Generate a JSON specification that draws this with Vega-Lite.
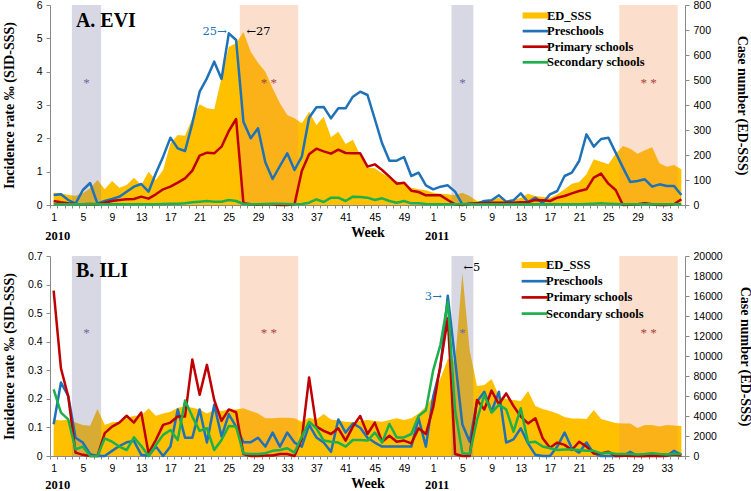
{
  "$schema": "https://vega.github.io/schema/vega-lite/v6.json",
  "background": "white",
  "padding": {"left": 2, "top": 0, "right": 0, "bottom": 0},
  "datasets": {
    "evi": [
      {"i": 1, "ED_SSS": 49, "Preschools": 0.30, "Primary schools": 0.12, "Secondary schools": 0.02},
      {"i": 2, "ED_SSS": 47, "Preschools": 0.32, "Primary schools": 0.08, "Secondary schools": 0.02},
      {"i": 3, "ED_SSS": 40, "Preschools": 0.15, "Primary schools": 0.05, "Secondary schools": 0.02},
      {"i": 4, "ED_SSS": 37, "Preschools": 0.04, "Primary schools": 0.03, "Secondary schools": 0.02},
      {"i": 5, "ED_SSS": 47, "Preschools": 0.45, "Primary schools": 0.02, "Secondary schools": 0.02},
      {"i": 6, "ED_SSS": 67, "Preschools": 0.66, "Primary schools": 0.03, "Secondary schools": 0.02},
      {"i": 7, "ED_SSS": 100, "Preschools": 0.04, "Primary schools": 0.02, "Secondary schools": 0.02},
      {"i": 8, "ED_SSS": 63, "Preschools": 0.12, "Primary schools": 0.07, "Secondary schools": 0.02},
      {"i": 9, "ED_SSS": 96, "Preschools": 0.18, "Primary schools": 0.12, "Secondary schools": 0.02},
      {"i": 10, "ED_SSS": 69, "Preschools": 0.25, "Primary schools": 0.15, "Secondary schools": 0.02},
      {"i": 11, "ED_SSS": 80, "Preschools": 0.40, "Primary schools": 0.17, "Secondary schools": 0.02},
      {"i": 12, "ED_SSS": 109, "Preschools": 0.55, "Primary schools": 0.18, "Secondary schools": 0.02},
      {"i": 13, "ED_SSS": 80, "Preschools": 0.63, "Primary schools": 0.25, "Secondary schools": 0.02},
      {"i": 14, "ED_SSS": 133, "Preschools": 0.40, "Primary schools": 0.19, "Secondary schools": 0.02},
      {"i": 15, "ED_SSS": 100, "Preschools": 0.95, "Primary schools": 0.32, "Secondary schools": 0.02},
      {"i": 16, "ED_SSS": 140, "Preschools": 1.45, "Primary schools": 0.47, "Secondary schools": 0.03},
      {"i": 17, "ED_SSS": 247, "Preschools": 2.02, "Primary schools": 0.55, "Secondary schools": 0.04},
      {"i": 18, "ED_SSS": 280, "Preschools": 1.70, "Primary schools": 0.67, "Secondary schools": 0.04},
      {"i": 19, "ED_SSS": 277, "Preschools": 1.62, "Primary schools": 0.80, "Secondary schools": 0.05},
      {"i": 20, "ED_SSS": 347, "Preschools": 2.45, "Primary schools": 1.03, "Secondary schools": 0.08},
      {"i": 21, "ED_SSS": 403, "Preschools": 3.40, "Primary schools": 1.48, "Secondary schools": 0.10},
      {"i": 22, "ED_SSS": 387, "Preschools": 3.80, "Primary schools": 1.57, "Secondary schools": 0.12},
      {"i": 23, "ED_SSS": 383, "Preschools": 4.30, "Primary schools": 1.55, "Secondary schools": 0.10},
      {"i": 24, "ED_SSS": 509, "Preschools": 3.78, "Primary schools": 1.75, "Secondary schools": 0.10},
      {"i": 25, "ED_SSS": 633, "Preschools": 5.15, "Primary schools": 2.22, "Secondary schools": 0.15},
      {"i": 26, "ED_SSS": 647, "Preschools": 4.95, "Primary schools": 2.58, "Secondary schools": 0.12},
      {"i": 27, "ED_SSS": 692, "Preschools": 2.50, "Primary schools": 0.05, "Secondary schools": 0.03},
      {"i": 28, "ED_SSS": 613, "Preschools": 2.00, "Primary schools": 0.02, "Secondary schools": 0.02},
      {"i": 29, "ED_SSS": 569, "Preschools": 2.30, "Primary schools": 0.01, "Secondary schools": 0.02},
      {"i": 30, "ED_SSS": 533, "Preschools": 1.28, "Primary schools": 0.02, "Secondary schools": 0.03},
      {"i": 31, "ED_SSS": 467, "Preschools": 0.78, "Primary schools": 0.02, "Secondary schools": 0.04},
      {"i": 32, "ED_SSS": 407, "Preschools": 1.17, "Primary schools": 0.00, "Secondary schools": 0.04},
      {"i": 33, "ED_SSS": 360, "Preschools": 1.55, "Primary schools": 0.00, "Secondary schools": 0.03},
      {"i": 34, "ED_SSS": 347, "Preschools": 1.05, "Primary schools": 0.02, "Secondary schools": 0.02},
      {"i": 35, "ED_SSS": 327, "Preschools": 1.45, "Primary schools": 1.02, "Secondary schools": 0.03},
      {"i": 36, "ED_SSS": 373, "Preschools": 2.62, "Primary schools": 1.52, "Secondary schools": 0.07},
      {"i": 37, "ED_SSS": 320, "Preschools": 2.93, "Primary schools": 1.69, "Secondary schools": 0.17},
      {"i": 38, "ED_SSS": 353, "Preschools": 2.94, "Primary schools": 1.61, "Secondary schools": 0.09},
      {"i": 39, "ED_SSS": 271, "Preschools": 2.60, "Primary schools": 1.54, "Secondary schools": 0.22},
      {"i": 40, "ED_SSS": 293, "Preschools": 2.90, "Primary schools": 1.66, "Secondary schools": 0.22},
      {"i": 41, "ED_SSS": 244, "Preschools": 2.90, "Primary schools": 1.56, "Secondary schools": 0.12},
      {"i": 42, "ED_SSS": 261, "Preschools": 3.25, "Primary schools": 1.55, "Secondary schools": 0.25},
      {"i": 43, "ED_SSS": 200, "Preschools": 3.40, "Primary schools": 1.55, "Secondary schools": 0.24},
      {"i": 44, "ED_SSS": 149, "Preschools": 3.30, "Primary schools": 1.15, "Secondary schools": 0.22},
      {"i": 45, "ED_SSS": 147, "Preschools": 2.58, "Primary schools": 1.22, "Secondary schools": 0.15},
      {"i": 46, "ED_SSS": 127, "Preschools": 1.85, "Primary schools": 1.05, "Secondary schools": 0.20},
      {"i": 47, "ED_SSS": 109, "Preschools": 1.33, "Primary schools": 0.85, "Secondary schools": 0.12},
      {"i": 48, "ED_SSS": 96, "Preschools": 1.33, "Primary schools": 0.64, "Secondary schools": 0.07},
      {"i": 49, "ED_SSS": 83, "Preschools": 1.44, "Primary schools": 0.67, "Secondary schools": 0.12},
      {"i": 50, "ED_SSS": 69, "Preschools": 0.87, "Primary schools": 0.43, "Secondary schools": 0.05},
      {"i": 51, "ED_SSS": 63, "Preschools": 0.97, "Primary schools": 0.39, "Secondary schools": 0.05},
      {"i": 52, "ED_SSS": 59, "Preschools": 0.59, "Primary schools": 0.29, "Secondary schools": 0.03},
      {"i": 53, "ED_SSS": 49, "Preschools": 0.47, "Primary schools": 0.29, "Secondary schools": 0.02},
      {"i": 54, "ED_SSS": 45, "Preschools": 0.55, "Primary schools": 0.29, "Secondary schools": 0.02},
      {"i": 55, "ED_SSS": 43, "Preschools": 0.59, "Primary schools": 0.15, "Secondary schools": 0.02},
      {"i": 56, "ED_SSS": 39, "Preschools": 0.40, "Primary schools": 0.02, "Secondary schools": 0.02},
      {"i": 57, "ED_SSS": 49, "Preschools": 0.02, "Primary schools": 0.00, "Secondary schools": 0.02},
      {"i": 58, "ED_SSS": 36, "Preschools": 0.04, "Primary schools": 0.04, "Secondary schools": 0.02},
      {"i": 59, "ED_SSS": 16, "Preschools": 0.04, "Primary schools": 0.05, "Secondary schools": 0.02},
      {"i": 60, "ED_SSS": 16, "Preschools": 0.12, "Primary schools": 0.06, "Secondary schools": 0.02},
      {"i": 61, "ED_SSS": 19, "Preschools": 0.14, "Primary schools": 0.07, "Secondary schools": 0.02},
      {"i": 62, "ED_SSS": 29, "Preschools": 0.29, "Primary schools": 0.07, "Secondary schools": 0.02},
      {"i": 63, "ED_SSS": 16, "Preschools": 0.10, "Primary schools": 0.07, "Secondary schools": 0.02},
      {"i": 64, "ED_SSS": 19, "Preschools": 0.14, "Primary schools": 0.07, "Secondary schools": 0.02},
      {"i": 65, "ED_SSS": 29, "Preschools": 0.35, "Primary schools": 0.08, "Secondary schools": 0.02},
      {"i": 66, "ED_SSS": 45, "Preschools": 0.09, "Primary schools": 0.09, "Secondary schools": 0.02},
      {"i": 67, "ED_SSS": 36, "Preschools": 0.22, "Primary schools": 0.15, "Secondary schools": 0.02},
      {"i": 68, "ED_SSS": 32, "Preschools": 0.06, "Primary schools": 0.14, "Secondary schools": 0.02},
      {"i": 69, "ED_SSS": 29, "Preschools": 0.32, "Primary schools": 0.12, "Secondary schools": 0.02},
      {"i": 70, "ED_SSS": 43, "Preschools": 0.42, "Primary schools": 0.22, "Secondary schools": 0.02},
      {"i": 71, "ED_SSS": 63, "Preschools": 0.87, "Primary schools": 0.27, "Secondary schools": 0.02},
      {"i": 72, "ED_SSS": 85, "Preschools": 0.97, "Primary schools": 0.35, "Secondary schools": 0.02},
      {"i": 73, "ED_SSS": 92, "Preschools": 1.32, "Primary schools": 0.42, "Secondary schools": 0.02},
      {"i": 74, "ED_SSS": 123, "Preschools": 2.12, "Primary schools": 0.47, "Secondary schools": 0.03},
      {"i": 75, "ED_SSS": 183, "Preschools": 1.75, "Primary schools": 0.82, "Secondary schools": 0.04},
      {"i": 76, "ED_SSS": 173, "Preschools": 1.98, "Primary schools": 0.94, "Secondary schools": 0.05},
      {"i": 77, "ED_SSS": 163, "Preschools": 2.02, "Primary schools": 0.64, "Secondary schools": 0.04},
      {"i": 78, "ED_SSS": 205, "Preschools": 1.57, "Primary schools": 0.45, "Secondary schools": 0.03},
      {"i": 79, "ED_SSS": 236, "Preschools": 1.12, "Primary schools": 0.00, "Secondary schools": 0.02},
      {"i": 80, "ED_SSS": 225, "Preschools": 0.69, "Primary schools": 0.01, "Secondary schools": 0.02},
      {"i": 81, "ED_SSS": 205, "Preschools": 0.72, "Primary schools": 0.02, "Secondary schools": 0.02},
      {"i": 82, "ED_SSS": 219, "Preschools": 0.77, "Primary schools": 0.05, "Secondary schools": 0.02},
      {"i": 83, "ED_SSS": 231, "Preschools": 0.55, "Primary schools": 0.02, "Secondary schools": 0.02},
      {"i": 84, "ED_SSS": 167, "Preschools": 0.62, "Primary schools": 0.00, "Secondary schools": 0.02},
      {"i": 85, "ED_SSS": 153, "Preschools": 0.57, "Primary schools": 0.00, "Secondary schools": 0.02},
      {"i": 86, "ED_SSS": 160, "Preschools": 0.57, "Primary schools": 0.02, "Secondary schools": 0.02},
      {"i": 87, "ED_SSS": 143, "Preschools": 0.30, "Primary schools": 0.17, "Secondary schools": 0.02}
    ],
    "ili": [
      {"i": 1, "ED_SSS": 3660, "Preschools": 0.111, "Primary schools": 0.579, "Secondary schools": 0.233},
      {"i": 2, "ED_SSS": 3540, "Preschools": 0.257, "Primary schools": 0.307, "Secondary schools": 0.152},
      {"i": 3, "ED_SSS": 3660, "Preschools": 0.210, "Primary schools": 0.208, "Secondary schools": 0.128},
      {"i": 4, "ED_SSS": 3340, "Preschools": 0.064, "Primary schools": 0.012, "Secondary schools": 0.023},
      {"i": 5, "ED_SSS": 3110, "Preschools": 0.047, "Primary schools": 0.004, "Secondary schools": 0.033},
      {"i": 6, "ED_SSS": 3030, "Preschools": 0.006, "Primary schools": 0.000, "Secondary schools": 0.000},
      {"i": 7, "ED_SSS": 4710, "Preschools": 0.000, "Primary schools": 0.000, "Secondary schools": 0.000},
      {"i": 8, "ED_SSS": 3110, "Preschools": 0.000, "Primary schools": 0.080, "Secondary schools": 0.062},
      {"i": 9, "ED_SSS": 3370, "Preschools": 0.018, "Primary schools": 0.103, "Secondary schools": 0.050},
      {"i": 10, "ED_SSS": 3430, "Preschools": 0.035, "Primary schools": 0.117, "Secondary schools": 0.033},
      {"i": 11, "ED_SSS": 3770, "Preschools": 0.048, "Primary schools": 0.141, "Secondary schools": 0.021},
      {"i": 12, "ED_SSS": 4030, "Preschools": 0.053, "Primary schools": 0.117, "Secondary schools": 0.065},
      {"i": 13, "ED_SSS": 4030, "Preschools": 0.004, "Primary schools": 0.152, "Secondary schools": 0.035},
      {"i": 14, "ED_SSS": 4770, "Preschools": 0.000, "Primary schools": 0.010, "Secondary schools": 0.000},
      {"i": 15, "ED_SSS": 4030, "Preschools": 0.033, "Primary schools": 0.056, "Secondary schools": 0.038},
      {"i": 16, "ED_SSS": 4260, "Preschools": 0.000, "Primary schools": 0.109, "Secondary schools": 0.074},
      {"i": 17, "ED_SSS": 4430, "Preschools": 0.033, "Primary schools": 0.117, "Secondary schools": 0.091},
      {"i": 18, "ED_SSS": 4830, "Preschools": 0.163, "Primary schools": 0.138, "Secondary schools": 0.056},
      {"i": 19, "ED_SSS": 4940, "Preschools": 0.064, "Primary schools": 0.138, "Secondary schools": 0.194},
      {"i": 20, "ED_SSS": 4830, "Preschools": 0.064, "Primary schools": 0.338, "Secondary schools": 0.138},
      {"i": 21, "ED_SSS": 4660, "Preschools": 0.163, "Primary schools": 0.214, "Secondary schools": 0.088},
      {"i": 22, "ED_SSS": 4260, "Preschools": 0.047, "Primary schools": 0.319, "Secondary schools": 0.097},
      {"i": 23, "ED_SSS": 4600, "Preschools": 0.179, "Primary schools": 0.196, "Secondary schools": 0.021},
      {"i": 24, "ED_SSS": 4510, "Preschools": 0.068, "Primary schools": 0.123, "Secondary schools": 0.056},
      {"i": 25, "ED_SSS": 4660, "Preschools": 0.146, "Primary schools": 0.163, "Secondary schools": 0.105},
      {"i": 26, "ED_SSS": 4660, "Preschools": 0.103, "Primary schools": 0.153, "Secondary schools": 0.103},
      {"i": 27, "ED_SSS": 4770, "Preschools": 0.048, "Primary schools": 0.007, "Secondary schools": 0.009},
      {"i": 28, "ED_SSS": 4510, "Preschools": 0.048, "Primary schools": 0.000, "Secondary schools": 0.007},
      {"i": 29, "ED_SSS": 4260, "Preschools": 0.064, "Primary schools": 0.000, "Secondary schools": 0.007},
      {"i": 30, "ED_SSS": 3770, "Preschools": 0.033, "Primary schools": 0.002, "Secondary schools": 0.010},
      {"i": 31, "ED_SSS": 3770, "Preschools": 0.082, "Primary schools": 0.002, "Secondary schools": 0.018},
      {"i": 32, "ED_SSS": 3830, "Preschools": 0.033, "Primary schools": 0.007, "Secondary schools": 0.021},
      {"i": 33, "ED_SSS": 3830, "Preschools": 0.082, "Primary schools": 0.007, "Secondary schools": 0.027},
      {"i": 34, "ED_SSS": 3770, "Preschools": 0.047, "Primary schools": 0.000, "Secondary schools": 0.012},
      {"i": 35, "ED_SSS": 3430, "Preschools": 0.033, "Primary schools": 0.060, "Secondary schools": 0.068},
      {"i": 36, "ED_SSS": 3830, "Preschools": 0.109, "Primary schools": 0.275, "Secondary schools": 0.120},
      {"i": 37, "ED_SSS": 3660, "Preschools": 0.065, "Primary schools": 0.103, "Secondary schools": 0.097},
      {"i": 38, "ED_SSS": 4200, "Preschools": 0.047, "Primary schools": 0.088, "Secondary schools": 0.054},
      {"i": 39, "ED_SSS": 3660, "Preschools": 0.015, "Primary schools": 0.077, "Secondary schools": 0.050},
      {"i": 40, "ED_SSS": 3540, "Preschools": 0.128, "Primary schools": 0.097, "Secondary schools": 0.047},
      {"i": 41, "ED_SSS": 3430, "Preschools": 0.082, "Primary schools": 0.054, "Secondary schools": 0.033},
      {"i": 42, "ED_SSS": 3370, "Preschools": 0.114, "Primary schools": 0.103, "Secondary schools": 0.056},
      {"i": 43, "ED_SSS": 3510, "Preschools": 0.099, "Primary schools": 0.140, "Secondary schools": 0.056},
      {"i": 44, "ED_SSS": 3600, "Preschools": 0.064, "Primary schools": 0.077, "Secondary schools": 0.054},
      {"i": 45, "ED_SSS": 3510, "Preschools": 0.047, "Primary schools": 0.117, "Secondary schools": 0.082},
      {"i": 46, "ED_SSS": 3430, "Preschools": 0.033, "Primary schools": 0.050, "Secondary schools": 0.047},
      {"i": 47, "ED_SSS": 3600, "Preschools": 0.033, "Primary schools": 0.071, "Secondary schools": 0.112},
      {"i": 48, "ED_SSS": 3770, "Preschools": 0.033, "Primary schools": 0.050, "Secondary schools": 0.065},
      {"i": 49, "ED_SSS": 3600, "Preschools": 0.033, "Primary schools": 0.054, "Secondary schools": 0.065},
      {"i": 50, "ED_SSS": 3770, "Preschools": 0.033, "Primary schools": 0.044, "Secondary schools": 0.077},
      {"i": 51, "ED_SSS": 4260, "Preschools": 0.132, "Primary schools": 0.097, "Secondary schools": 0.140},
      {"i": 52, "ED_SSS": 4940, "Preschools": 0.033, "Primary schools": 0.077, "Secondary schools": 0.160},
      {"i": 53, "ED_SSS": 5940, "Preschools": 0.208, "Primary schools": 0.170, "Secondary schools": 0.300},
      {"i": 54, "ED_SSS": 7770, "Preschools": 0.310, "Primary schools": 0.320, "Secondary schools": 0.390},
      {"i": 55, "ED_SSS": 9700, "Preschools": 0.561, "Primary schools": 0.482, "Secondary schools": 0.540},
      {"i": 56, "ED_SSS": 9500, "Preschools": 0.336, "Primary schools": 0.007, "Secondary schools": 0.160},
      {"i": 57, "ED_SSS": 18300, "Preschools": 0.110, "Primary schools": 0.000, "Secondary schools": 0.010},
      {"i": 58, "ED_SSS": 10600, "Preschools": 0.050, "Primary schools": 0.000, "Secondary schools": 0.007},
      {"i": 59, "ED_SSS": 7000, "Preschools": 0.190, "Primary schools": 0.196, "Secondary schools": 0.126},
      {"i": 60, "ED_SSS": 7100, "Preschools": 0.225, "Primary schools": 0.163, "Secondary schools": 0.214},
      {"i": 61, "ED_SSS": 7700, "Preschools": 0.155, "Primary schools": 0.229, "Secondary schools": 0.152},
      {"i": 62, "ED_SSS": 6000, "Preschools": 0.225, "Primary schools": 0.181, "Secondary schools": 0.179},
      {"i": 63, "ED_SSS": 5700, "Preschools": 0.047, "Primary schools": 0.219, "Secondary schools": 0.163},
      {"i": 64, "ED_SSS": 5600, "Preschools": 0.058, "Primary schools": 0.175, "Secondary schools": 0.085},
      {"i": 65, "ED_SSS": 5500, "Preschools": 0.097, "Primary schools": 0.138, "Secondary schools": 0.167},
      {"i": 66, "ED_SSS": 6500, "Preschools": 0.044, "Primary schools": 0.114, "Secondary schools": 0.047},
      {"i": 67, "ED_SSS": 5000, "Preschools": 0.004, "Primary schools": 0.132, "Secondary schools": 0.050},
      {"i": 68, "ED_SSS": 4700, "Preschools": 0.000, "Primary schools": 0.062, "Secondary schools": 0.033},
      {"i": 69, "ED_SSS": 4500, "Preschools": 0.000, "Primary schools": 0.029, "Secondary schools": 0.027},
      {"i": 70, "ED_SSS": 4250, "Preschools": 0.033, "Primary schools": 0.047, "Secondary schools": 0.021},
      {"i": 71, "ED_SSS": 3900, "Preschools": 0.082, "Primary schools": 0.039, "Secondary schools": 0.023},
      {"i": 72, "ED_SSS": 3750, "Preschools": 0.027, "Primary schools": 0.021, "Secondary schools": 0.023},
      {"i": 73, "ED_SSS": 3750, "Preschools": 0.012, "Primary schools": 0.050, "Secondary schools": 0.021},
      {"i": 74, "ED_SSS": 3700, "Preschools": 0.047, "Primary schools": 0.033, "Secondary schools": 0.018},
      {"i": 75, "ED_SSS": 4600, "Preschools": 0.009, "Primary schools": 0.009, "Secondary schools": 0.018},
      {"i": 76, "ED_SSS": 3700, "Preschools": 0.000, "Primary schools": 0.009, "Secondary schools": 0.009},
      {"i": 77, "ED_SSS": 3500, "Preschools": 0.000, "Primary schools": 0.015, "Secondary schools": 0.012},
      {"i": 78, "ED_SSS": 3300, "Preschools": 0.000, "Primary schools": 0.000, "Secondary schools": 0.007},
      {"i": 79, "ED_SSS": 3250, "Preschools": 0.000, "Primary schools": 0.002, "Secondary schools": 0.007},
      {"i": 80, "ED_SSS": 3250, "Preschools": 0.015, "Primary schools": 0.000, "Secondary schools": 0.007},
      {"i": 81, "ED_SSS": 2800, "Preschools": 0.000, "Primary schools": 0.000, "Secondary schools": 0.005},
      {"i": 82, "ED_SSS": 3100, "Preschools": 0.000, "Primary schools": 0.000, "Secondary schools": 0.007},
      {"i": 83, "ED_SSS": 3100, "Preschools": 0.004, "Primary schools": 0.000, "Secondary schools": 0.010},
      {"i": 84, "ED_SSS": 2950, "Preschools": 0.000, "Primary schools": 0.000, "Secondary schools": 0.007},
      {"i": 85, "ED_SSS": 3100, "Preschools": 0.000, "Primary schools": 0.002, "Secondary schools": 0.005},
      {"i": 86, "ED_SSS": 3050, "Preschools": 0.018, "Primary schools": 0.005, "Secondary schools": 0.007},
      {"i": 87, "ED_SSS": 3000, "Preschools": 0.004, "Primary schools": 0.002, "Secondary schools": 0.007}
    ],
    "holidays": [
      {"i": 3.5, "i2": 7.5, "kind": "winter", "mark": "*"},
      {"i": 26.5, "i2": 34.5, "kind": "summer", "mark": "* *"},
      {"i": 55.5, "i2": 58.5, "kind": "winter", "mark": "*"},
      {"i": 78.5, "i2": 86.5, "kind": "summer", "mark": "* *"}
    ],
    "years": [
      {"i": 1, "year": "2010"},
      {"i": 53, "year": "2011"}
    ]
  },
  "vconcat": [
    {
      "width": 635,
      "height": 200,
      "encoding": {
        "x": {
          "field": "i",
          "type": "quantitative",
          "title": "Week",
          "scale": {"domain": [0.5, 87.5], "nice": false, "zero": false},
          "axis": {
            "values": [0.5,1.5,2.5,3.5,4.5,5.5,6.5,7.5,8.5,9.5,10.5,11.5,12.5,13.5,14.5,15.5,16.5,17.5,18.5,19.5,20.5,21.5,22.5,23.5,24.5,25.5,26.5,27.5,28.5,29.5,30.5,31.5,32.5,33.5,34.5,35.5,36.5,37.5,38.5,39.5,40.5,41.5,42.5,43.5,44.5,45.5,46.5,47.5,48.5,49.5,50.5,51.5,52.5,53.5,54.5,55.5,56.5,57.5,58.5,59.5,60.5,61.5,62.5,63.5,64.5,65.5,66.5,67.5,68.5,69.5,70.5,71.5,72.5,73.5,74.5,75.5,76.5,77.5,78.5,79.5,80.5,81.5,82.5,83.5,84.5,85.5,86.5,87.5],
            "labelExpr": "(datum.value - 0.5) % 4 === 0 ? '' + ((datum.value + 0.5) > 52 ? datum.value + 0.5 - 52 : datum.value + 0.5) : ''",
            "labelOffset": 3.65,
            "labelFlush": false,
            "labelOverlap": false,
            "labelBound": false,
            "tickSize": 3,
            "labelPadding": 4,
            "titlePadding": 3
          }
        }
      },
      "layer": [
        {
          "data": {"name": "evi"},
          "transform": [{"fold": ["ED_SSS"], "as": ["series", "cases"]}],
          "mark": {"type": "area", "interpolate": "linear"},
          "encoding": {
            "y": {
              "field": "cases",
              "type": "quantitative",
              "scale": {"domain": [0, 800], "nice": false},
              "axis": {"orient": "right", "title": "Case number (ED-SSS)", "values": [0,100,200,300,400,500,600,700,800], "format": "d", "labelOverlap": false, "minExtent": 30, "maxExtent": 30, "titlePadding": 19}
            },
            "color": {"field": "series", "type": "nominal"}
          }
        },
        {
          "data": {"name": "holidays"},
          "mark": {"type": "rect", "opacity": 0.3},
          "encoding": {
            "x2": {"field": "i2"},
            "color": {"condition": {"test": "datum.kind === 'winter'", "value": "#7F7FA8"}, "value": "#F29152"}
          }
        },
        {
          "encoding": {
            "y": {
              "field": "rate",
              "type": "quantitative",
              "scale": {"domain": [0, 6], "nice": false},
              "axis": {"orient": "left", "title": "Incidence rate ‰ (SID-SSS)", "values": [0,1,2,3,4,5,6], "format": "d", "labelOverlap": false, "minExtent": 25, "maxExtent": 25, "titlePadding": 9}
            }
          },
          "layer": [
            {
              "data": {"name": "evi"},
              "transform": [{"fold": ["Preschools", "Primary schools", "Secondary schools"], "as": ["series", "rate"]}],
              "mark": {"type": "line", "strokeWidth": 2.5, "strokeJoin": "round"},
              "encoding": {
                "color": {
                  "field": "series",
                  "type": "nominal",
                  "scale": {"domain": ["ED_SSS", "Preschools", "Primary schools", "Secondary schools"], "range": ["#FFC000", "#1F72B8", "#C00000", "#1DB04B"]},
                  "legend": {
                    "orient": "none", "legendX": 472, "legendY": 4, "title": null, "padding": 0,
                    "labelFont": "Liberation Serif", "labelFontSize": 12.5, "labelFontWeight": "bold", "labelColor": "#000",
                    "symbolSize": 150, "symbolOffset": 7, "labelOffset": 5, "rowPadding": 2.6,
                    "encode": {"symbols": {"update": {
                      "shape": {"signal": "datum.value === 'ED_SSS' ? 'M-2.1,-0.5H2.1V0.5H-2.1Z' : 'M-2.1,-0.22H2.1V0.22H-2.1Z'"},
                      "fill": {"signal": "datum.value === 'ED_SSS' ? '#FFC000' : (datum.value === 'Preschools' ? '#1F72B8' : (datum.value === 'Primary schools' ? '#C00000' : '#1DB04B'))"},
                      "strokeWidth": {"value": 0},
                      "opacity": {"value": 1},
                      "fillOpacity": {"value": 1}
                    }}}
                  }
                }
              }
            },
            {
              "data": {"values": [
                {"i": 5.5, "rate": 3.66, "note": "*", "kind": "winter"},
                {"i": 30.5, "rate": 3.66, "note": "* *", "kind": "summer"},
                {"i": 57, "rate": 3.66, "note": "*", "kind": "winter"},
                {"i": 82.5, "rate": 3.66, "note": "* *", "kind": "summer"}
              ]},
              "mark": {"type": "text", "font": "Liberation Serif", "fontSize": 13, "baseline": "middle"},
              "encoding": {
                "text": {"field": "note"},
                "color": {"condition": {"test": "datum.kind === 'winter'", "value": "#6B67A3"}, "value": "#A8423C"}
              }
            },
            {
              "data": {"values": [{"i": 25, "rate": 5.2, "note": "25→"}]},
              "mark": {"type": "text", "font": "DejaVu Serif", "fontSize": 11.5, "align": "right", "baseline": "middle", "dx": -2, "color": "#1F72B8"},
              "encoding": {"text": {"field": "note"}}
            },
            {
              "data": {"values": [{"i": 27, "rate": 5.2, "note": "←27"}]},
              "mark": {"type": "text", "font": "DejaVu Serif", "fontSize": 11.5, "align": "left", "baseline": "middle", "dx": 3, "color": "#000"},
              "encoding": {"text": {"field": "note"}}
            },
            {
              "data": {"values": [{"i": 3.5, "rate": 5.34, "note": "A. EVI"}]},
              "mark": {"type": "text", "font": "Liberation Serif", "fontSize": 20, "fontWeight": "bold", "align": "left", "baseline": "alphabetic", "dx": 4, "color": "#000"},
              "encoding": {"text": {"field": "note"}}
            },
            {
              "data": {"values": [{"i": 1, "rate": -0.93, "note": "2010"}, {"i": 53, "rate": -0.93, "note": "2011"}]},
              "mark": {"type": "text", "font": "Liberation Serif", "fontSize": 12.5, "fontWeight": "bold", "baseline": "middle", "dx": 4, "color": "#000"},
              "encoding": {"text": {"field": "note"}}
            }
          ]
        }
      ],
      "resolve": {"scale": {"y": "independent"}}
    },
    {
      "width": 635,
      "height": 200,
      "encoding": {
        "x": {
          "field": "i",
          "type": "quantitative",
          "title": "Week",
          "scale": {"domain": [0.5, 87.5], "nice": false, "zero": false},
          "axis": {
            "values": [0.5,1.5,2.5,3.5,4.5,5.5,6.5,7.5,8.5,9.5,10.5,11.5,12.5,13.5,14.5,15.5,16.5,17.5,18.5,19.5,20.5,21.5,22.5,23.5,24.5,25.5,26.5,27.5,28.5,29.5,30.5,31.5,32.5,33.5,34.5,35.5,36.5,37.5,38.5,39.5,40.5,41.5,42.5,43.5,44.5,45.5,46.5,47.5,48.5,49.5,50.5,51.5,52.5,53.5,54.5,55.5,56.5,57.5,58.5,59.5,60.5,61.5,62.5,63.5,64.5,65.5,66.5,67.5,68.5,69.5,70.5,71.5,72.5,73.5,74.5,75.5,76.5,77.5,78.5,79.5,80.5,81.5,82.5,83.5,84.5,85.5,86.5,87.5],
            "labelExpr": "(datum.value - 0.5) % 4 === 0 ? '' + ((datum.value + 0.5) > 52 ? datum.value + 0.5 - 52 : datum.value + 0.5) : ''",
            "labelOffset": 3.65,
            "labelFlush": false,
            "labelOverlap": false,
            "labelBound": false,
            "tickSize": 3,
            "labelPadding": 4,
            "titlePadding": 3
          }
        }
      },
      "layer": [
        {
          "data": {"name": "ili"},
          "transform": [{"fold": ["ED_SSS"], "as": ["series", "cases"]}],
          "mark": {"type": "area", "interpolate": "linear"},
          "encoding": {
            "y": {
              "field": "cases",
              "type": "quantitative",
              "scale": {"domain": [0, 20000], "nice": false},
              "axis": {"orient": "right", "title": "Case number (ED-SSS)", "values": [0,2000,4000,6000,8000,10000,12000,14000,16000,18000,20000], "format": "d", "labelOverlap": false, "minExtent": 30, "maxExtent": 30, "titlePadding": 22}
            },
            "color": {"field": "series", "type": "nominal"}
          }
        },
        {
          "data": {"name": "holidays"},
          "mark": {"type": "rect", "opacity": 0.3},
          "encoding": {
            "x2": {"field": "i2"},
            "color": {"condition": {"test": "datum.kind === 'winter'", "value": "#7F7FA8"}, "value": "#F29152"}
          }
        },
        {
          "encoding": {
            "y": {
              "field": "rate",
              "type": "quantitative",
              "scale": {"domain": [0, 0.7], "nice": false},
              "axis": {"orient": "left", "title": "Incidence rate ‰ (SID-SSS)", "values": [0,0.1,0.2,0.3,0.4,0.5,0.6,0.7], "format": ".1~f", "labelOverlap": false, "minExtent": 25, "maxExtent": 25, "titlePadding": 9}
            }
          },
          "layer": [
            {
              "data": {"name": "ili"},
              "transform": [{"fold": ["Preschools", "Primary schools", "Secondary schools"], "as": ["series", "rate"]}],
              "mark": {"type": "line", "strokeWidth": 2.5, "strokeJoin": "round"},
              "encoding": {
                "color": {
                  "field": "series",
                  "type": "nominal",
                  "scale": {"domain": ["ED_SSS", "Preschools", "Primary schools", "Secondary schools"], "range": ["#FFC000", "#1F72B8", "#C00000", "#1DB04B"]},
                  "legend": {
                    "orient": "none", "legendX": 471, "legendY": 2.5, "title": null, "padding": 0,
                    "labelFont": "Liberation Serif", "labelFontSize": 12.5, "labelFontWeight": "bold", "labelColor": "#000",
                    "symbolSize": 150, "symbolOffset": 7, "labelOffset": 5, "rowPadding": 3.2,
                    "encode": {"symbols": {"update": {
                      "shape": {"signal": "datum.value === 'ED_SSS' ? 'M-2.1,-0.5H2.1V0.5H-2.1Z' : 'M-2.1,-0.22H2.1V0.22H-2.1Z'"},
                      "fill": {"signal": "datum.value === 'ED_SSS' ? '#FFC000' : (datum.value === 'Preschools' ? '#1F72B8' : (datum.value === 'Primary schools' ? '#C00000' : '#1DB04B'))"},
                      "strokeWidth": {"value": 0},
                      "opacity": {"value": 1},
                      "fillOpacity": {"value": 1}
                    }}}
                  }
                }
              }
            },
            {
              "data": {"values": [
                {"i": 5.5, "rate": 0.43, "note": "*", "kind": "winter"},
                {"i": 30.5, "rate": 0.43, "note": "* *", "kind": "summer"},
                {"i": 57, "rate": 0.43, "note": "*", "kind": "winter"},
                {"i": 82.5, "rate": 0.43, "note": "* *", "kind": "summer"}
              ]},
              "mark": {"type": "text", "font": "Liberation Serif", "fontSize": 13, "baseline": "middle"},
              "encoding": {
                "text": {"field": "note"},
                "color": {"condition": {"test": "datum.kind === 'winter'", "value": "#6B67A3"}, "value": "#A8423C"}
              }
            },
            {
              "data": {"values": [{"i": 55, "rate": 0.558, "note": "3→"}]},
              "mark": {"type": "text", "font": "DejaVu Serif", "fontSize": 11.5, "align": "right", "baseline": "middle", "dx": -6, "color": "#1F72B8"},
              "encoding": {"text": {"field": "note"}}
            },
            {
              "data": {"values": [{"i": 57, "rate": 0.657, "note": "←5"}]},
              "mark": {"type": "text", "font": "DejaVu Serif", "fontSize": 11.5, "align": "left", "baseline": "middle", "dx": 1, "color": "#000"},
              "encoding": {"text": {"field": "note"}}
            },
            {
              "data": {"values": [{"i": 3.5, "rate": 0.6265, "note": "B. ILI"}]},
              "mark": {"type": "text", "font": "Liberation Serif", "fontSize": 20, "fontWeight": "bold", "align": "left", "baseline": "alphabetic", "dx": 4, "color": "#000"},
              "encoding": {"text": {"field": "note"}}
            },
            {
              "data": {"values": [{"i": 1, "rate": -0.1015, "note": "2010"}, {"i": 53, "rate": -0.1015, "note": "2011"}]},
              "mark": {"type": "text", "font": "Liberation Serif", "fontSize": 12.5, "fontWeight": "bold", "baseline": "middle", "dx": 4, "color": "#000"},
              "encoding": {"text": {"field": "note"}}
            }
          ]
        }
      ],
      "resolve": {"scale": {"y": "independent"}}
    }
  ],
  "spacing": 8,
  "resolve": {"scale": {"color": "independent"}},
  "config": {
    "view": {"stroke": null},
    "axis": {
      "grid": false,
      "labelOverlap": false,
      "labelFont": "Liberation Sans",
      "labelFontSize": 10.5,
      "labelColor": "#000",
      "titleFont": "Liberation Serif",
      "titleFontSize": 14,
      "titleFontWeight": "bold",
      "titleColor": "#000",
      "domainColor": "#8a8a8a",
      "tickColor": "#8a8a8a",
      "tickSize": 4,
      "labelPadding": 4
    }
  }
}
